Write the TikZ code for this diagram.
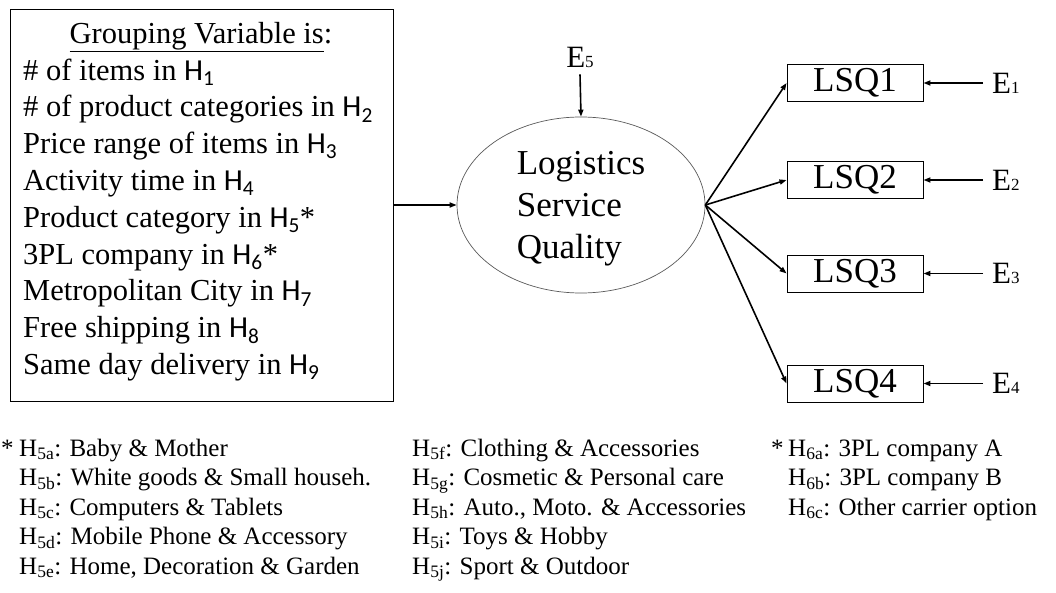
\documentclass[tikz,border=0pt]{standalone}
\usepackage{fontspec}
\setmainfont{Liberation Serif}
\newfontfamily\hsans{Carlito}
\usetikzlibrary{arrows.meta,shapes.geometric}

% hypothesis label inside the grouping box (sans H with sans subscript)
\newcommand\Hs[1]{{\hsans H\textsubscript{#1}}}
% hypothesis label in the legend (serif)
\newcommand\Hl[1]{H\textsubscript{#1}}
% small digit set on the baseline, as in E1..E5
\newcommand\esub[1]{{\fontsize{17}{17}\selectfont #1}}

\begin{document}
\begin{tikzpicture}[x=1pt,y=-1pt,
  arr/.style={line width=1.6pt,-{Triangle[length=7pt,width=5pt]}},
  itemtxt/.style={anchor=base west,inner sep=0pt,font=\fontsize{30.5}{36}\selectfont},
  legtxt/.style={anchor=base west,inner sep=0pt,font=\fontsize{25}{29}\selectfont},
  lsqbox/.style={draw,line width=0.9pt,minimum width=136pt,minimum height=37pt,inner sep=0pt,font=\fontsize{35}{35}\selectfont},
  elab/.style={inner xsep=9pt,inner ysep=0pt,font=\fontsize{31}{31}\selectfont}]
\useasboundingbox (0,0) rectangle (1056,593);

% grouping variable box
\node[draw,line width=0.9pt,minimum width=383pt,minimum height=392pt,inner sep=0pt] (grp) at (201.5,205) {};
\node[anchor=base,inner sep=0pt,font=\fontsize{30.5}{36}\selectfont] (title) at (201,43.3) {\underline{Grouping Variable is}:};
\foreach \t [count=\i] in {
  {\# of items in \Hs{1}},
  {\# of product categories in \Hs{2}},
  {Price range of items in \Hs{3}},
  {Activity time in \Hs{4}},
  {Product category in \Hs{5}*},
  {3PL company in \Hs{6}*},
  {Metropolitan City in \Hs{7}},
  {Free shipping in \Hs{8}},
  {Same day delivery in \Hs{9}}}
  \node[itemtxt] (item\i) at (23,{43.3+36.8*\i}) {\t};

% latent construct
\node[draw=black!65,line width=0.7pt,ellipse,minimum width=248pt,minimum height=176pt,inner sep=0pt,
      align=left,font=\fontsize{35}{42}\selectfont] (lsq) at (581,205) {\rule{0pt}{31pt}Logistics\\Service\\Quality};
\node[inner xsep=0pt,inner ysep=7pt,font=\fontsize{31}{31}\selectfont] (e5) at (580,57) {E\esub{5}};

% indicators
\node[lsqbox] (q1) at (855,83) {LSQ1};
\node[lsqbox] (q2) at (855,180) {LSQ2};
\node[lsqbox] (q3) at (855,273.5) {LSQ3};
\node[lsqbox] (q4) at (855,383.5) {LSQ4};

\node[elab,anchor=west] (e1) at (983,83) {E\esub{1}};
\node[elab,anchor=west] (e2) at (983,180) {E\esub{2}};
\node[elab,anchor=west] (e3) at (983,273.5) {E\esub{3}};
\node[elab,anchor=west] (e4) at (983,383.5) {E\esub{4}};

% paths
\draw[arr] (grp.east) -- (lsq.west);
\draw[arr] (e5.south) -- (lsq.north);
\foreach \q in {q1,q2,q3,q4}
  \draw[arr] (lsq.east) -- (\q.west);
\draw[arr] (e1.west) -- (q1.east);
\draw[arr] (e2.west) -- (q2.east);
\draw[arr] (e3.west) -- (q3.east);
\draw[arr] (e4.west) -- (q4.east);

% legend: product categories
\node[legtxt] (s1) at (1,456) {*};
\node[legtxt] (a1) at (19,456) {\Hl{5a}: Baby \& Mother};
\node[legtxt] (a2) at (19,485.5) {\Hl{5b}: White goods \& Small househ.};
\node[legtxt] (a3) at (19,515) {\Hl{5c}: Computers \& Tablets};
\node[legtxt] (a4) at (19,544.5) {\Hl{5d}: Mobile Phone \& Accessory};
\node[legtxt] (a5) at (19,574) {\Hl{5e}: Home, Decoration \& Garden};
\node[legtxt] (b1) at (412,456) {\Hl{5f}: Clothing \& Accessories};
\node[legtxt] (b2) at (412,485.5) {\Hl{5g}: Cosmetic \& Personal care};
\node[legtxt] (b3) at (412,515) {\Hl{5h}: Auto., Moto. \& Accessories};
\node[legtxt] (b4) at (412,544.5) {\Hl{5i}: Toys \& Hobby};
\node[legtxt] (b5) at (412,574) {\Hl{5j}: Sport \& Outdoor};
% legend: carriers
\node[legtxt] (s2) at (771,456) {*};
\node[legtxt] (c1) at (788,456) {\Hl{6a}: 3PL company A};
\node[legtxt] (c2) at (788,485.5) {\Hl{6b}: 3PL company B};
\node[legtxt] (c3) at (788,515) {\Hl{6c}: Other carrier option};
\end{tikzpicture}
\end{document}
